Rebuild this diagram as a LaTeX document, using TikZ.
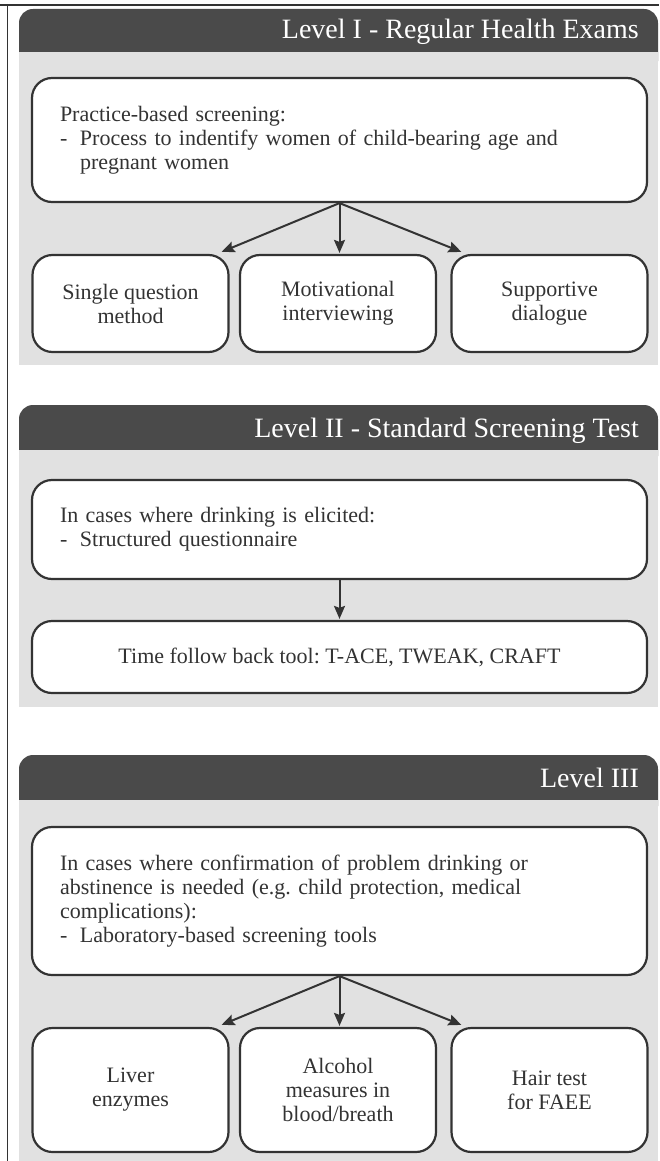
\documentclass[tikz,border=0pt]{standalone}
\usepackage{fontspec}
\setmainfont{Liberation Serif}
\usetikzlibrary{arrows.meta,calc}
\definecolor{hdr}{HTML}{4A4A4A}
\definecolor{panel}{HTML}{E1E1E1}
\definecolor{ink}{HTML}{333333}
\frenchspacing
\begin{document}
\begin{tikzpicture}[x=1pt,y=-1pt,
  hdrshape/.style={fill=hdr, rounded corners=14pt},
  panelbg/.style={fill=panel},
  hdrtext/.style={text=white, font=\fontsize{28}{30}\selectfont, anchor=base east, inner sep=0pt},
  bigbox/.style={draw=ink, line width=2.2pt, rounded corners=20pt, fill=white,
    minimum width=615pt, text width=559pt, inner xsep=28pt, inner ysep=0pt, align=left,
    font=\fontsize{22}{24}\selectfont, text=ink},
  widebox/.style={draw=ink, line width=2.2pt, rounded corners=20pt, fill=white,
    minimum width=615pt, inner sep=0pt, align=center,
    font=\fontsize{22}{24}\selectfont, text=ink},
  smallbox/.style={draw=ink, line width=2.2pt, rounded corners=20pt, fill=white,
    minimum width=196pt, inner sep=0pt, align=center,
    font=\fontsize{22}{24}\selectfont, text=ink},
  arr/.style={draw=ink, line width=2pt, -{Stealth[length=13pt,width=11pt,inset=2pt]}}
]
\useasboundingbox (0,0) rectangle (659,1161);
\fill[white] (0,0) rectangle (659,1161);
% frame lines
\draw[ink, line width=1.5pt] (0,5) -- (659,5);
\draw[ink, line width=1.5pt] (7.5,5) -- (7.5,1161);

% ---------- Level I ----------
\fill[hdrshape] (19,9) rectangle (658,75);
\fill[panelbg] (19,52) rectangle (658,365);
\node[hdrtext] (t1) at (639,39) {Level I - Regular Health Exams};

\node[bigbox, minimum height=124pt] (b1) at (339.5,140)
  {Practice-based screening:\\
   \makebox[20pt][l]{-}Process to indentify women of child-bearing age and\\
   \hspace*{20pt}pregnant women};

\node[smallbox, minimum height=97pt] (s11) at (130.5,303.5) {Single question\\method};
\node[smallbox, minimum height=97pt] (s12) at (338,303.5) {Motivational\\interviewing};
\node[smallbox, minimum height=97pt] (s13) at (549.5,303.5) {Supportive\\dialogue};

\draw[arr] (b1.south) -- ($(s11.north east)+(-8,-2)$);
\draw[arr] (b1.south) -- ($(b1.south |- s12.north)+(0,-1)$);
\draw[arr] (b1.south) -- ($(s13.north west)+(11,-2)$);

% ---------- Level II ----------
\fill[hdrshape] (19,405) rectangle (658,470);
\fill[panelbg] (19,450) rectangle (658,707);
\node[hdrtext] (t2) at (639,437) {Level II - Standard Screening Test};

\node[bigbox, minimum height=99pt] (b2) at (339.5,529.5)
  {In cases where drinking is elicited:\\
   \makebox[20pt][l]{-}Structured questionnaire};

\node[widebox, minimum height=72pt] (b3) at (339.5,657)
  {Time follow back tool: T-ACE, TWEAK, CRAFT};

\draw[arr] (b2.south) -- ($(b3.north)+(0,-1)$);

% ---------- Level III ----------
\fill[hdrshape] (19,755) rectangle (658,820);
\fill[panelbg] (19,800) rectangle (658,1161);
\node[hdrtext] (t3) at (639,787) {Level III};

\node[bigbox, minimum height=148pt] (b4) at (339.5,901)
  {In cases where confirmation of problem drinking or\\
   abstinence is needed (e.g. child protection, medical\\
   complications):\\
   \makebox[20pt][l]{-}Laboratory-based screening tools};

\node[smallbox, minimum height=124pt] (s31) at (130.5,1090) {Liver\\enzymes};
\node[smallbox, minimum height=124pt] (s32) at (338,1090) {Alcohol\\measures in\\blood/breath};
\node[smallbox, minimum height=124pt] (s33) at (549.5,1090) {Hair test\\for FAEE};

\draw[arr] (b4.south) -- ($(s31.north east)+(-8,-2)$);
\draw[arr] (b4.south) -- ($(b4.south |- s32.north)+(0,-1)$);
\draw[arr] (b4.south) -- ($(s33.north west)+(11,-2)$);
\end{tikzpicture}
\end{document}
